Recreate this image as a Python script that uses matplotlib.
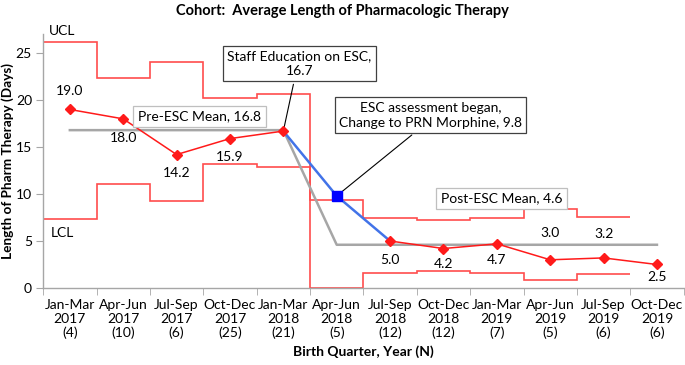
import matplotlib
matplotlib.use("Agg")
import matplotlib.pyplot as plt
import numpy as np

# Quarterly data
quarters = ["Jan-Mar\n2017\n(4)", "Apr-Jun\n2017\n(10)", "Jul-Sep\n2017\n(6)",
            "Oct-Dec\n2017\n(25)", "Jan-Mar\n2018\n(21)", "Apr-Jun\n2018\n(5)",
            "Jul-Sep\n2018\n(12)", "Oct-Dec\n2018\n(12)", "Jan-Mar\n2019\n(7)",
            "Apr-Jun\n2019\n(5)", "Jul-Sep\n2019\n(6)", "Oct-Dec\n2019\n(6)"]
avg_days = [19.0, 18.0, 14.2, 15.9, 16.7, 9.8, 5.0, 4.2, 4.7, 3.0, 3.2, 2.5]
mean_days = [16.8, 16.8, 16.8, 16.8, 16.8, 4.6, 4.6, 4.6, 4.6, 4.6, 4.6, 4.6]
ucl = [26.2, 22.4, 24.1, 20.2, 20.6, 9.4, 7.4, 7.2, 7.5, 8.4, 7.6]
lcl = [7.3, 11.1, 9.3, 13.2, 12.9, 0.0, 1.6, 1.8, 1.6, 0.9, 1.5]

# label placement (pixels from the point), positive = above
label_offsets = [18, -19, -18, -18, None, None, -19, -15, -16, 27, 24, -13]

plt.rcParams['font.family'] = ['Lato', 'DejaVu Sans']
plt.rcParams['font.size'] = 10

RED = "#ff1a1a"
LIMIT_RED = "#ff4d4d"
GRAY = "#a6a6a6"
BLUE = "#4273e8"

fig = plt.figure(figsize=(6.85, 3.65), dpi=100)
ax = fig.add_axes([0.063, 0.211, 0.935, 0.695])

x = np.arange(len(avg_days))
edges = np.arange(len(ucl) + 1) - 0.5

# control limits
ax.stairs(ucl, edges, baseline=None, color=LIMIT_RED, lw=1.2, zorder=2)
ax.stairs(lcl, edges, baseline=None, color=LIMIT_RED, lw=1.2, zorder=2)

# means
ax.plot(x, mean_days, color=GRAY, lw=1.8, zorder=3)

# data
ax.plot(x[4:7], avg_days[4:7], color=BLUE, lw=1.8, zorder=4)
ax.plot(x[:5], avg_days[:5], color=RED, lw=1.1, marker="D", ms=5, zorder=5)
ax.plot(x[6:], avg_days[6:], color=RED, lw=1.1, marker="D", ms=5, zorder=5)
ax.plot(x[5], avg_days[5], color="#0000ff", marker="s", ms=7, zorder=6)

for xi, val, off in zip(x, avg_days, label_offsets):
    if off is None:
        continue
    ax.annotate(f"{val:.1f}", (xi, val), xytext=(0, off), textcoords="offset pixels",
                ha="center", va="center", fontsize=10)

# callouts
ax.annotate("Staff Education on ESC,\n16.7", xy=(x[4], avg_days[4]), xytext=(4.3, 23.9),
            ha="center", va="center", fontsize=10, linespacing=1.3,
            bbox=dict(boxstyle="square,pad=0.3", fc="white", ec="#404040", lw=0.9),
            arrowprops=dict(arrowstyle="-", color="black", lw=0.8, relpos=(0.47, 0)))
ax.annotate("ESC assessment began,\nChange to PRN Morphine, 9.8", xy=(x[5], avg_days[5]),
            xytext=(6.76, 18.4), ha="center", va="center", fontsize=10, linespacing=1.3,
            bbox=dict(boxstyle="square,pad=0.3", fc="white", ec="#404040", lw=0.9),
            arrowprops=dict(arrowstyle="-", color="black", lw=0.8, relpos=(0.44, 0)))
ax.text(2.43, 18.26, "Pre-ESC Mean, 16.8", ha="center", va="center", fontsize=10,
        bbox=dict(boxstyle="square,pad=0.35", fc="white", ec="#bfbfbf", lw=0.9), zorder=7)
ax.text(8.09, 9.53, "Post-ESC Mean, 4.6", ha="center", va="center", fontsize=10,
        bbox=dict(boxstyle="square,pad=0.35", fc="white", ec="#bfbfbf", lw=0.9), zorder=7)

ax.text(-0.4, 27.3, "UCL", ha="left", va="center", fontsize=10)
ax.text(-0.35, 5.8, "LCL", ha="left", va="center", fontsize=10)

# axes
ax.set_xlim(-0.5, 11.5)
ax.set_ylim(0, 27)
ax.set_yticks([0, 5, 10, 15, 20, 25])
ax.set_xticks(x)
ax.set_xticklabels(quarters, linespacing=1.15)
ax.set_xticks(edges.tolist() + [11.5], minor=True)
ax.tick_params(axis="x", which="major", length=0, pad=8)
ax.tick_params(axis="x", which="minor", length=5, color="#a6a6a6")
ax.tick_params(axis="y", length=5, pad=3, color="#a6a6a6")
for side in ["top", "right"]:
    ax.spines[side].set_visible(False)
for side in ["left", "bottom"]:
    ax.spines[side].set_color("#a6a6a6")
    ax.spines[side].set_linewidth(1.0)

ax.set_ylabel("Length of Pharm Therapy (Days)", fontweight="bold", fontsize=9.8)
ax.yaxis.set_label_coords(-0.045, 0.5)
ax.set_xlabel("Birth Quarter, Year (N)", fontweight="bold", labelpad=5)
fig.suptitle("Cohort:  Average Length of Pharmacologic Therapy", fontweight="bold",
             fontsize=10.5, x=0.5, y=0.99)

fig.savefig("out.png", dpi=100)
